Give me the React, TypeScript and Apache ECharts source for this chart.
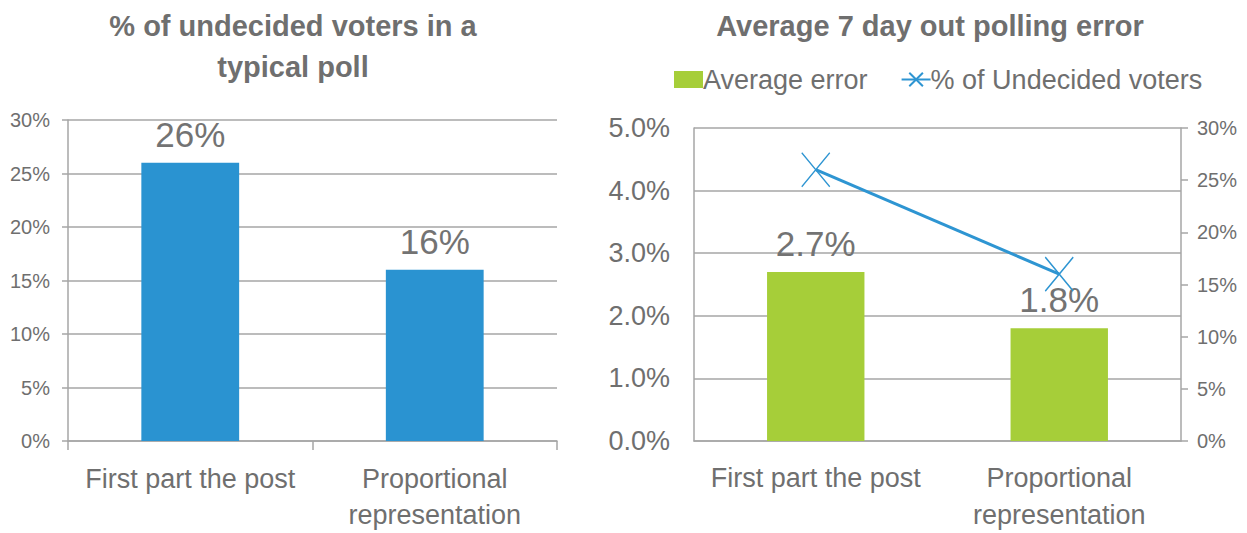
import React, { useEffect, useRef } from "react";
import * as echarts from "echarts";

const categories = ["First part the post", "Proportional\nrepresentation"];
const undecidedPct = [26, 16];
const avgError = [2.7, 1.8];
const leftTicks = { min: 0, max: 30, interval: 5 };
const errTicks = { min: 0, max: 5, interval: 1 };

const FONT = '"Liberation Sans", Arial, sans-serif';
const GRID_COLOR = "#a6a6a6";
const TEXT = "#6f6f6f";
const BLUE = "#2a93d1";
const GREEN = "#a6ce39";
const LINE_BLUE = "#2e95d2";
const XPATH = "path://M0,0L10,10M10,0L0,10";

export default function App() {
  const ref = useRef<HTMLDivElement>(null);
  useEffect(() => {
    document.body.style.margin = "0";
    const chart = echarts.init(ref.current!, null, { renderer: "svg" });
    chart.setOption({
      animation: false,
      textStyle: { fontFamily: FONT },
      title: [
        {
          text: "% of undecided voters in a\ntypical poll",
          left: 288,
          textAlign: "center",
          top: 0,
          textStyle: { fontFamily: FONT, fontSize: 29, fontWeight: "bold", color: TEXT, lineHeight: 41 },
        },
        {
          text: "Average 7 day out polling error",
          left: 925,
          textAlign: "center",
          top: 0,
          textStyle: { fontFamily: FONT, fontSize: 29, fontWeight: "bold", color: TEXT, lineHeight: 41 },
        },
      ],
      legend: {
        left: 669,
        top: 61,
        itemWidth: 29,
        itemHeight: 17,
        itemGap: 33,
        textStyle: { fontFamily: FONT, fontSize: 27, color: TEXT, padding: [0, 0, 0, -5] },
        data: [
          { name: "Average error", icon: "rect" },
          { name: "% of Undecided voters" },
        ],
      },
      grid: [
        { left: 68, right: 1247 - 557, top: 120, bottom: 533 - 444 },
        { left: 694, right: 1247 - 1181, top: 128, bottom: 533 - 442 },
      ],
      xAxis: [
        {
          gridIndex: 0,
          type: "category",
          data: categories,
          axisLine: { lineStyle: { color: GRID_COLOR, width: 1.5 } },
          axisTick: { show: true, length: 9, lineStyle: { color: GRID_COLOR, width: 1.5 } },
          axisLabel: { interval: 0, fontFamily: FONT, fontSize: 27, color: TEXT, lineHeight: 36, margin: 20 },
        },
        {
          gridIndex: 1,
          type: "category",
          data: categories,
          axisLine: { lineStyle: { color: GRID_COLOR, width: 1.5 } },
          axisTick: { show: false },
          axisLabel: { interval: 0, fontFamily: FONT, fontSize: 27, color: TEXT, lineHeight: 37, margin: 18 },
        },
      ],
      yAxis: [
        {
          gridIndex: 0,
          type: "value",
          min: leftTicks.min,
          max: leftTicks.max,
          interval: leftTicks.interval,
          axisLine: { show: true, lineStyle: { color: GRID_COLOR, width: 1.5 } },
          axisTick: { show: true, length: 6, lineStyle: { color: GRID_COLOR, width: 1.5 } },
          axisLabel: { fontFamily: FONT, fontSize: 20, color: TEXT, margin: 18, formatter: "{value}%" },
          splitLine: { lineStyle: { color: GRID_COLOR, width: 1.5 } },
        },
        {
          gridIndex: 1,
          type: "value",
          min: errTicks.min,
          max: errTicks.max,
          interval: errTicks.interval,
          axisLine: { show: true, lineStyle: { color: GRID_COLOR, width: 1.5 } },
          axisTick: { show: false },
          axisLabel: {
            fontFamily: FONT,
            fontSize: 27,
            color: TEXT,
            margin: 24,
            formatter: (v: number) => v.toFixed(1) + "%",
          },
          splitLine: { lineStyle: { color: GRID_COLOR, width: 1.5 } },
        },
        {
          gridIndex: 1,
          type: "value",
          position: "right",
          min: leftTicks.min,
          max: leftTicks.max,
          interval: leftTicks.interval,
          axisLine: { show: true, lineStyle: { color: GRID_COLOR, width: 1.5 } },
          axisTick: { show: true, length: 7, lineStyle: { color: GRID_COLOR, width: 1.5 } },
          axisLabel: { fontFamily: FONT, fontSize: 20, color: TEXT, margin: 16, formatter: "{value}%" },
          splitLine: { show: false },
        },
      ],
      series: [
        {
          name: "% undecided",
          type: "bar",
          xAxisIndex: 0,
          yAxisIndex: 0,
          data: undecidedPct,
          barWidth: "40%",
          itemStyle: { color: BLUE },
          label: {
            show: true,
            position: "top",
            distance: 11,
            formatter: "{c}%",
            fontFamily: FONT,
            fontSize: 35,
            color: "#737373",
          },
        },
        {
          name: "Average error",
          type: "bar",
          xAxisIndex: 1,
          yAxisIndex: 1,
          data: avgError,
          barWidth: "40%",
          itemStyle: { color: GREEN },
          label: {
            show: true,
            position: "top",
            distance: 11,
            formatter: (p: any) => p.value.toFixed(1) + "%",
            fontFamily: FONT,
            fontSize: 35,
            color: "#737373",
          },
        },
        {
          name: "% of Undecided voters",
          type: "line",
          xAxisIndex: 1,
          yAxisIndex: 2,
          data: undecidedPct,
          symbol: XPATH,
          symbolSize: [28, 34],
          lineStyle: { color: LINE_BLUE, width: 3 },
          itemStyle: { color: LINE_BLUE, borderColor: LINE_BLUE, borderWidth: 1.5 },
        },
      ],
    });
    return () => chart.dispose();
  }, []);
  return <div ref={ref} style={{ width: 1247, height: 533 }} />;
}
